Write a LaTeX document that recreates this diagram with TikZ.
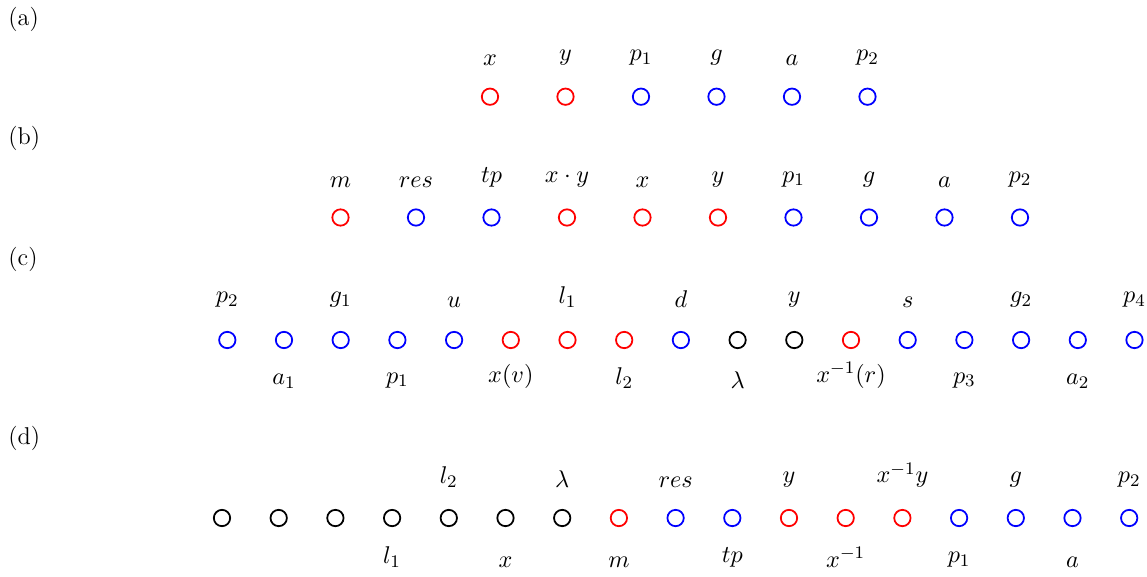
\documentclass[tikz,border=0pt]{standalone}
\usetikzlibrary{calc}
\begin{document}
\begin{tikzpicture}[x=0.4525pt, y=-0.4525pt,
  font=\fontsize{11}{13}\selectfont,
  dot/.style={circle, draw, line width=0.8pt, minimum size=7.4pt, inner sep=0pt},
  lab/.style={anchor=south, inner sep=0pt},
  tag/.style={anchor=west, inner sep=0pt}]
\useasboundingbox (0,0) rectangle (1147,576);

% panel tags
\node[tag] (ta) at (8,19) {(a)};
\node[tag] (tb) at (8,138) {(b)};
\node[tag] (tc) at (8,259) {(c)};
\node[tag] (td) at (8,438) {(d)};

% (a)
\foreach \c [count=\i from 0] in {red,red,blue,blue,blue,blue}
  \node[dot, draw=\c] (a\i) at (490+75.5*\i, 96.7) {};
\foreach \k/\t in {0/x,1/y,2/p_1,3/g,4/a,5/p_2}
  \node[lab] (la\k) at ($(a\k)+(0,-31)$) {$\t$};

% (b)
\foreach \c [count=\i from 0] in {red,blue,blue,red,red,red,blue,blue,blue,blue}
  \node[dot, draw=\c] (b\i) at (340.5+75.5*\i, 217.5) {};
\foreach \k/\t in {0/m,1/res,2/tp,3/x\cdot y,4/x,5/y,6/p_1,7/g,8/a,9/p_2}
  \node[lab] (lb\k) at ($(b\k)+(0,-30)$) {$\t$};

% (c)
\foreach \c [count=\i from 0] in {blue,blue,blue,blue,blue,red,red,red,blue,black,black,red,blue,blue,blue,blue,blue}
  \node[dot, draw=\c] (c\i) at (227.3+56.7*\i, 340) {};
\foreach \k/\t in {0/p_2,2/g_1,4/u,6/l_1,8/d,10/y,12/s,14/g_2,16/p_4}
  \node[lab] (lct\k) at ($(c\k)+(0,-32)$) {$\t$};
\foreach \k/\t in {1/a_1,3/p_1,5/x(v),7/l_2,9/\lambda,11/x^{-1}(r),13/p_3,15/a_2}
  \node[lab] (lcb\k) at ($(c\k)+(0,48.5)$) {$\t$};

% (d)
\foreach \c [count=\i from 0] in {black,black,black,black,black,black,black,red,blue,blue,red,red,red,blue,blue,blue,blue}
  \node[dot, draw=\c] (d\i) at (222+56.7*\i, 518) {};
\foreach \k/\t in {4/l_2,6/\lambda,8/res,10/y,12/x^{-1}y,14/g,16/p_2}
  \node[lab] (ldt\k) at ($(d\k)+(0,-30)$) {$\t$};
\foreach \k/\t in {3/l_1,5/x,7/m,9/tp,11/x^{-1},13/p_1,15/a}
  \node[lab] (ldb\k) at ($(d\k)+(0,50)$) {$\t$};
\end{tikzpicture}
\end{document}
